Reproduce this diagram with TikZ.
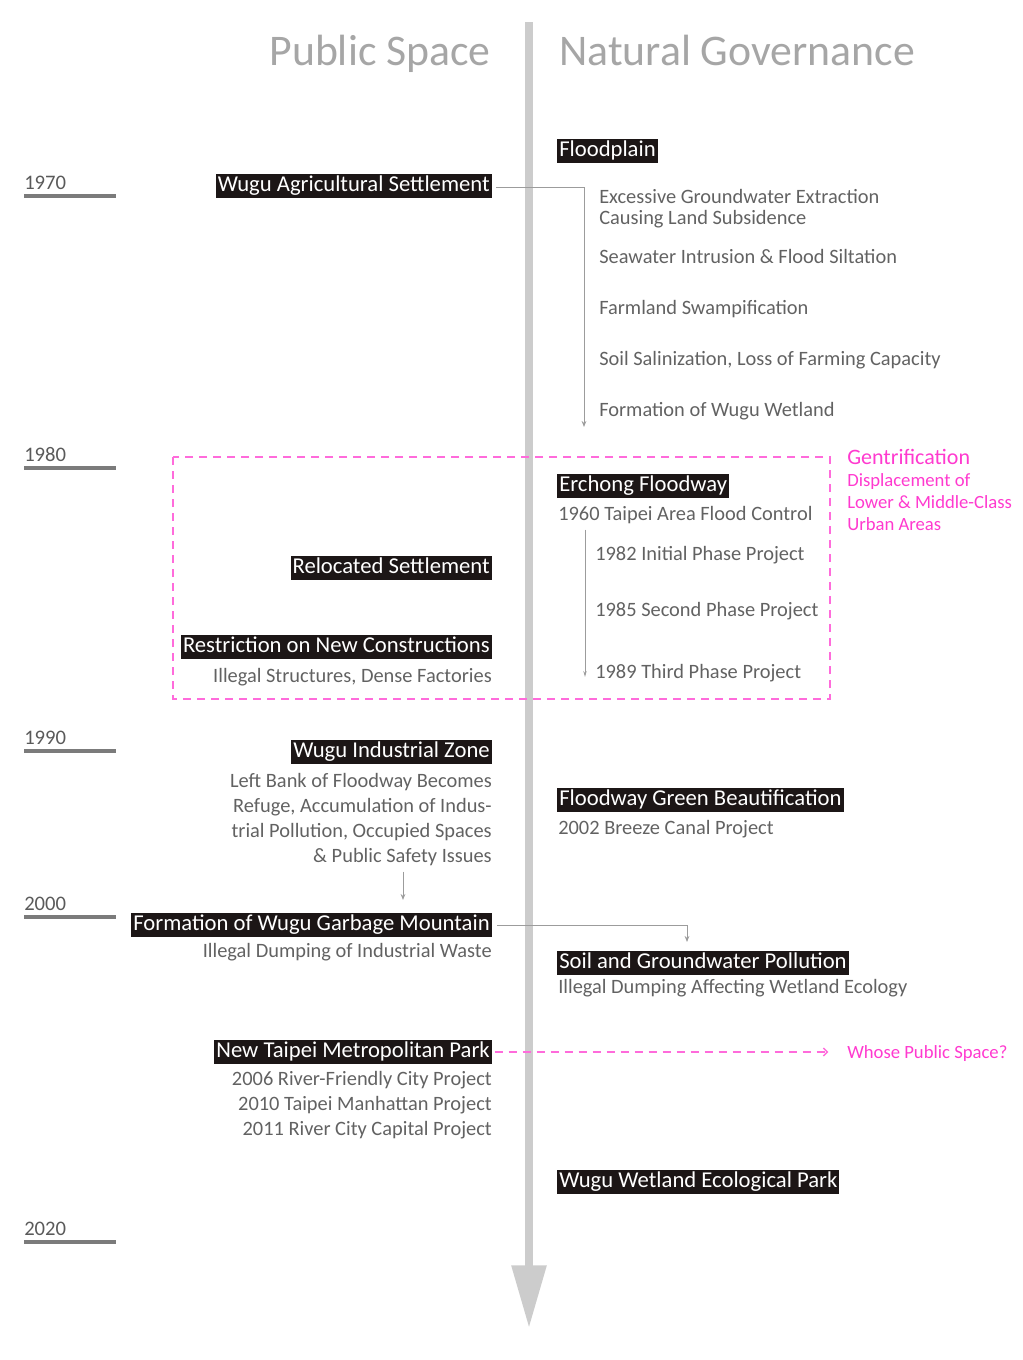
\documentclass[tikz,border=0pt]{standalone}
\usepackage{fontspec}
\setmainfont{Carlito}
\usetikzlibrary{arrows.meta, positioning, calc}

\definecolor{boxBlack}{HTML}{1C1616}
\definecolor{noteGray}{HTML}{626262}
\definecolor{titleGray}{HTML}{A6A6A6}
\definecolor{yearGray}{HTML}{5A5A5A}
\definecolor{axisGray}{HTML}{CCCCCC}
\definecolor{lineGray}{HTML}{9C9C9C}
\definecolor{gentriPink}{HTML}{FF3ACF}

\newcommand{\milestone}[3][]{
  \node(#2)[
    milestone,
    #1
  ] {#3};
}

\tikzset{
  milestone/.style = {
    fill=boxBlack,
    text=white,
    font=\fontsize{17}{20}\selectfont,
    inner xsep=1.5pt,
    inner ysep=1.2pt,
    text height=11.5pt,
    text depth=3.5pt,
    yshift=-1.5pt,
  },
  note/.style = {
    text=noteGray,
    font=\fontsize{15.3}{18.75}\selectfont,
    inner sep=0pt,
  },
  title/.style = {
    text=titleGray,
    font=\fontsize{32.8}{36}\selectfont,
    inner sep=0pt,
  },
  year/.style = {
    text=yearGray,
    font=\fontsize{15.5}{18}\selectfont,
    inner sep=0pt,
    anchor=base west,
  },
  pinkNote/.style = {
    text=gentriPink,
    font=\fontsize{14}{16.2}\selectfont,
    inner sep=0pt,
    align=left,
  },
  axis/.style = {
    draw=axisGray,
    line width=6pt,
    -{Triangle[length=47pt, width=25pt]},
  },
  yearLine/.style = {
    draw=yearGray!80,
    line width=2.3pt,
  },
  flow/.style = {
    draw=lineGray,
    line width=0.7pt,
    -{Stealth[length=4.5pt, width=3.5pt]},
  },
  gentri/.style = {
    draw=gentriPink!75,
    line width=1pt,
    dash pattern=on 6pt off 4.5pt,
  },
  gentriArrow/.style = {
    gentri,
    -{Straight Barb[length=3pt, width=6pt]},
  },
}

\begin{document}
\begin{tikzpicture}[x=0.75pt, y=-0.75pt]

\useasboundingbox (0,0) rectangle (1022,1360);

% timeline axis
\coordinate (axisTop) at (529,22);
\coordinate (axisTip) at (529,1328);
\draw[axis] (axisTop) -- (axisTip);

\node(publicTitle)[title, anchor=base east] at (491,65) {Public Space};
\node(naturalTitle)[title, anchor=base west] at (559,65) {Natural Governance};

% years
\foreach \yr/\yy in {1970/196, 1980/468, 1990/751, 2000/917, 2020/1242} {
  \node(y\yr)[year] at (24,\yy-7) {\yr};
  \draw[yearLine] (24,\yy) -- (116,\yy);
}

% public space side
\milestone[at={(492,184)}, anchor=east]{agri}{Wugu Agricultural Settlement}
\milestone[at={(492,566)}, anchor=east]{reloc}{Relocated Settlement}
\milestone[at={(492,645)}, anchor=east]{restrict}{Restriction on New Constructions}
\node(restrictNote)[note, anchor=base east] at (492,682) {Illegal Structures, Dense Factories};

\milestone[at={(492,750)}, anchor=east]{indzone}{Wugu Industrial Zone}
\node(indNote)[note, align=right, anchor=base east] at (492,862) {
  Left Bank of Floodway Becomes\\
  Refuge, Accumulation of Indus-\\
  trial Pollution, Occupied Spaces\\
  \& Public Safety Issues
};

\milestone[at={(492,923)}, anchor=east]{garbage}{Formation of Wugu Garbage Mountain}
\node(garbNote)[note, anchor=base east] at (492,957) {Illegal Dumping of Industrial Waste};

\milestone[at={(492,1050)}, anchor=east]{park}{New Taipei Metropolitan Park}
\node(parkNote)[note, align=right, anchor=base east] at (492,1135) {
  2006 River-Friendly City Project\\
  2010 Taipei Manhattan Project\\
  2011 River City Capital Project
};

% natural governance side
\milestone[at={(557,149)}, anchor=west]{flood}{Floodplain}
\node(extract)[note, align=left, anchor=base west, font=\fontsize{15.3}{15.75}\selectfont] at (599,224) {
  Excessive Groundwater Extraction\\
  Causing Land Subsidence
};
\node(seawater)[note, anchor=base west] at (599,263) {Seawater Intrusion \& Flood Siltation};
\node(swamp)[note, anchor=base west] at (599,314) {Farmland Swampification};
\node(salin)[note, anchor=base west] at (599,365) {Soil Salinization, Loss of Farming Capacity};
\node(wetland)[note, anchor=base west] at (599,416) {Formation of Wugu Wetland};

\milestone[at={(557,484)}, anchor=west]{erchong}{Erchong Floodway}
\node(floodCtl)[note, anchor=base west] at (558,520) {1960 Taipei Area Flood Control};
\node(phaseOne)[note, anchor=base west] at (595,560) {1982 Initial Phase Project};
\node(phaseTwo)[note, anchor=base west] at (595,616) {1985 Second Phase Project};
\node(phaseThree)[note, anchor=base west] at (595,678) {1989 Third Phase Project};

\milestone[at={(557,798)}, anchor=west]{greenB}{Floodway Green Beautification}
\node(breeze)[note, anchor=base west] at (558,834) {2002 Breeze Canal Project};

\milestone[at={(557,961)}, anchor=west]{soilPoll}{Soil and Groundwater Pollution}
\node(soilNote)[note, anchor=base west] at (558,993) {Illegal Dumping Affecting Wetland Ecology};

\milestone[at={(557,1180)}, anchor=west]{wetPark}{Wugu Wetland Ecological Park}

% gentrification
\draw[gentri] (173,457) rectangle (830,699);
\node(gentrification)[pinkNote, anchor=base west, font=\fontsize{16.5}{18}\selectfont] at (847,464) {Gentrification};
\node(displace)[pinkNote, anchor=base west] at (847,530) {
  Displacement of\\
  Lower \& Middle-Class\\
  Urban Areas
};
\node(whose)[pinkNote, anchor=base west] at (847,1058) {Whose Public Space?};

% connectors
\coordinate (wetEnd) at (584,427);
\draw[flow] (agri.east) ++(4,1) -| (wetEnd);

\coordinate (phaseEnd) at (585,677);
\draw[flow, -{Stealth[length=4.5pt, width=2.5pt]}] (floodCtl.south -| phaseEnd) ++(0,6) -- (phaseEnd);

\coordinate (garbIn) at (403,900);
\draw[flow] (indNote.south -| garbIn) ++(0,6) -- (garbIn);

\coordinate (soilIn) at (687,942);
\draw[flow] (garbage.east) ++(5,0) -| (soilIn);

\draw[gentriArrow, shorten <=2pt, shorten >=14pt] (park.east) -- (park.east -| whose.west);

\end{tikzpicture}
\end{document}
